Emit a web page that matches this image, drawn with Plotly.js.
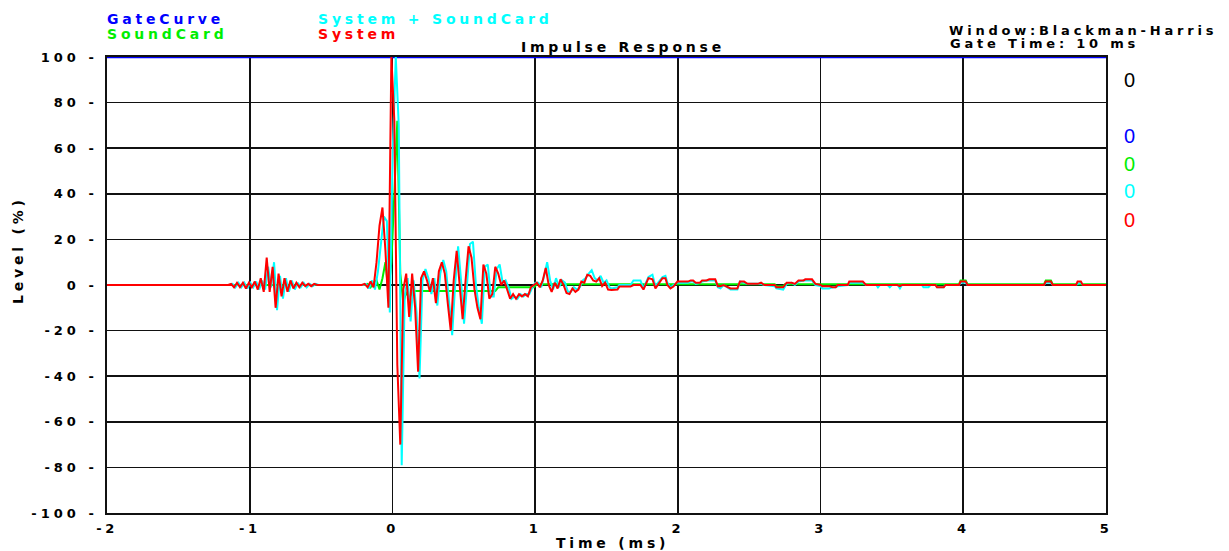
<!DOCTYPE html>
<html><head><meta charset="utf-8">
<script src="https://cdn.plot.ly/plotly-3.0.1.min.js"></script>
<style>
html,body{margin:0;padding:0;background:#fff;}
#chart{width:1229px;height:551px;}
.ytick text{letter-spacing:4px;}
.xtick text{letter-spacing:3.5px;}
.annotation-text,.gtitle{letter-spacing:3.8px;}
</style></head><body><div id="chart"></div><script>
// ---- data (times in ms, levels in %) ----
const headStart = -1.193;      // first sample time of the recorded block
const sampleStep = 0.0208;     // ms per sample (48 kHz)
const comboDelay = 0.01;       // System + SoundCard lags by a fraction of a sample
const leadTimes = [-2];
const leadValues = [0];

const systemHead = [0,0,0,
 0.5,-1,1,-1,1,-1.5,1,-1,1.5,-2,3,-3,12,-3,8,-10,5,-5,3,-3,2,-1.5,1,-1,1,-0.5,0.5,-0.5,0.5,0,
 0,0,0,0,0,0,0,0,0,0,0,0,0,0,0,
 0.5,-1,1.5,-1,10,26,34,15,-10,100,72,-35,-70,
 -2,5,-14,5,-10,-38,3,6,2,-3,
 3,-8,6,10,5,-8,-20,2,15,0,
 -15,2,17,12,-2,-10,-15,9,5,-6,
 -4,8,5,0,2,-2,-6,-4,-6,-4,
 -5,-4,-5,-1,0,1,-1,2,7.5,0,
 -3,1,-1.5,2.5,0,-3.5,-4,-1.5,-3,-2,
 1.5,1,4.5,4,2,1.5,3,-0.5,1,-2];

const comboHead = [0,0,0,
 0.5,-1,1,-1,1,-1.5,1,-1,1.5,-2,2,-2,8,-1,10,-11,4,-6,3,-3,2,-2,1,-1,1,-1,0.5,-0.5,0.5,0,
 0,0,0,0,0,0,0,0,0,0,0,0,0,0,0,
 0.5,-1.5,2,-2,6,18,30,28,-12,60,100,70,-79,
 -5,3,-16,2,-12,-41,2,7,3,-4,
 3,-9,5,11,6,-8,-22,0,17,2,
 -17,0,18,19,0,-10,-17,8,9,-5,
 -5,7,9,1,2,-1,-6,-5,-6,-4,
 -5,-4,-4,-1,1,1,-1,4,10,2,
 -2,3,-1,2,1,-3,-3,-1,-2,-1,
 2,3,5,6.5,3,2,4,1,2,-1];

const soundHead = [0,0,0,0,0,0,0,0,0,0,0,0,0,0,0,0,0,0,0,0,0,0,0,0,
 0,0,0,0,0,0,0,0,0,0,0,0,0,0,0,0,0,0,0,0,0,0,0,0,
 0,0.5,-1,1,2,-2,3,10,-3,10,40,72,5,-8,-3,-6,-3,
 -2.6,-2.6,-2.6,-2.6,-2.6,-2.6,-2.6,-2.6,-2.6,-2.6,-2.6,-2.6,-2.6,-2.6,
 -2.6,-2.6,-2.6,-2.6,-2.6,-2.6,-2.6,-2.6,-2.6,-2.6,-2.6,-2.6,-2.6,-2.6,
 -1,-1,-1,-1,-1,-1,-1,-1,-1,-1,-1,-1,-1,
 0.3,0.3,0.3,0.3,0.3,0.3,0.3,0.3,0.3,0.3,0.3,0.3,0.3,
 0.3,0.3,0.3,0.3,0.3,0.3,0.3,0.3,0.3,0.3,0.3,0.3];

const tailTimes = [1.535,1.577,1.590,1.668,1.689,1.738,1.759,1.794,1.822,1.843,
 1.892,1.913,1.927,1.948,1.969,1.997,2.030,2.070,2.090,2.107,
 2.125,2.155,2.170,2.202,2.220,2.262,2.280,2.298,2.321,2.369,
 2.417,2.435,2.464,2.488,2.560,2.583,2.607,2.679,2.690,2.738,
 2.762,2.798,2.820,2.845,2.881,2.893,2.940,2.964,3.000,3.012,
 3.059,3.083,3.106,3.120,3.190,3.201,3.296,3.319,3.390,3.402,
 3.415,3.470,3.485,3.500,3.540,3.556,3.570,3.710,3.721,3.756,
 3.770,3.805,3.816,3.863,3.875,3.970,3.981,4.017,4.030,4.565,
 4.578,4.614,4.627,4.790,4.801,4.824,4.837,5.000];

const systemTail = [-2.2,-2,-0.7,-0.7,0,0,-2,3,2.5,-1.5,
 3,3,0,-1.5,-0.7,1.5,1.5,1.5,2,2,
 1,1,2,2,2.5,2.5,-0.5,-0.5,0,-1.5,
 -1.5,1.5,1.5,0.5,0.5,1,0,0,-1,-1,
 1,1,0.5,2,2,2.5,2.5,0.5,0,-0.5,
 -0.5,-1,-1,0,0,1.5,1.5,0,0,0,
 0,0,0,0,0,-0.5,0,0,0,0,
 0,0,-1,-1,0,0,1.5,1.5,0,0,
 1.5,1.5,0,0,1.5,1.5,0,0];

const comboTail = [-1.5,-1,0,0,2,2,-1.5,3.5,4.5,-0.5,
 3.5,4,1,-1,0,1,1,1,1.5,1.5,
 0.5,1,1.5,2,2,2,-1,-1.5,0,-2,
 -2,1.5,1,0.5,0.5,0.5,0,-0.5,-1.5,-2,
 0.5,1,0,1.5,2,2,2,0,-0.5,-1.5,
 -1.5,-1,-1,-0.5,0,1,1,0,0,-1,
 0,0,-1,0,0,-1.5,0,0,-1,-1,
 0,0,-1,-1,0,0,1,1,0,0,
 1,1,0,0,0.5,1,0,0];

const soundTailTimes = [1.535,2.679,2.690,2.738,2.750,3.970,3.981,4.017,4.030,4.565,4.578,4.614,4.627,5.000];
const soundTail = [0.3,0.3,-0.5,-0.5,0.3,0.3,2,2,0.3,0.3,2,2,0.3,0.3];

const gateTimes = [-2, 5];
const gateValues = [100, 100];

const xTickValues = [-2,-1,0,1,2,3,4,5];
const xTickLabels = ['-2','-1','0','1','2','3','4','5'];
const yTickValues = [-100,-80,-60,-40,-20,0,20,40,60,80,100];
const yTickLabels = ['-100 -','-80 -','-60 -','-40 -','-20 -','0 -','20 -','40 -','60 -','80 -','100 -'];

const seriesNames = ['GateCurve','SoundCard','System + SoundCard','System'];
const seriesColors = ['#0000ff','#00ee00','#00ffff','#ff0000'];
const readouts = ['0','0','0','0','0'];

// ---- build ----
function sampleTimes(n, start){ return Array.from({length:n}, (_, i) => start + i*sampleStep); }

const sysX = leadTimes.concat(sampleTimes(systemHead.length, headStart), tailTimes);
const sysY = leadValues.concat(systemHead, systemTail);
const comboX = leadTimes.concat(sampleTimes(comboHead.length, headStart + comboDelay), tailTimes);
const comboY = leadValues.concat(comboHead, comboTail);
const sndX = leadTimes.concat(sampleTimes(soundHead.length, headStart), soundTailTimes);
const sndY = leadValues.concat(soundHead, soundTail);

const L = 107, R = 1106, T = 57, B = 513;
const px = x => (x - L) / (R - L);
const py = y => (B - y) / (B - T);

const traces = [
 {x: gateTimes, y: gateValues, name: seriesNames[0], mode:'lines', line:{color:seriesColors[0], width:2.6}, cliponaxis:false},
 {x: sndX, y: sndY, name: seriesNames[1], mode:'lines', line:{color:seriesColors[1], width:2, simplify:false}},
 {x: comboX, y: comboY, name: seriesNames[2], mode:'lines', line:{color:seriesColors[2], width:2, simplify:false}},
 {x: sysX, y: sysY, name: seriesNames[3], mode:'lines', line:{color:seriesColors[3], width:2, simplify:false}}
];

const font = 'DejaVu Sans';
const ann = (text, x, y, color, size, anchor) => ({text:'<b>'+text+'</b>', x:px(x), y:py(y), xref:'paper', yref:'paper',
  xanchor: anchor || 'left', yanchor:'middle', showarrow:false, font:{family:font, size:size||14, color}});

const annotations = [
 ann(seriesNames[0], 105, 18.5, seriesColors[0]),
 ann(seriesNames[1], 105, 33.5, seriesColors[1]),
 ann(seriesNames[2], 316, 18.5, seriesColors[2]),
 ann(seriesNames[3], 316, 33.5, seriesColors[3]),
 ann('Window:Blackman-Harris', 947, 30, '#000', 13),
 ann('Gate Time: 10 ms', 948, 43.5, '#000', 13),
 ann('Time (ms)', 612, 543, '#000', 14, 'center'),
 {text:'<b>Level (%)</b>', x:px(18), y:py(250), xref:'paper', yref:'paper', textangle:-90, xanchor:'center', yanchor:'middle', showarrow:false, font:{family:font, size:14, color:'#000'}}
];
const readoutColors = ['#000','#0000ff','#00ee00','#00ffff','#ff0000'];
const readoutY = [80, 135.5, 163.5, 191.5, 219.5];
readouts.forEach((t, i) => annotations.push({text:t, x:px(1122), y:py(readoutY[i]), xref:'paper', yref:'paper', xanchor:'left', yanchor:'middle', showarrow:false, font:{family:'Liberation Sans', size:20, color:readoutColors[i]}}));

const axisCommon = {showgrid:true, gridcolor:'#111', gridwidth:1.6, zeroline:false, showline:true, linecolor:'#111', linewidth:1.6, mirror:true, ticks:'', fixedrange:true, tickfont:{family:font, size:13, color:'#000', weight:'bold'}};

const layout = {
 width:1229, height:551, margin:{l:L, r:1229-R, t:T, b:551-B, pad:0},
 paper_bgcolor:'#fff', plot_bgcolor:'#fff', showlegend:false,
 font:{family:font, size:13, color:'#000'},
 title:{text:'<b>Impulse Response</b>', x:623/1229, xref:'container', y:1-47/551, yref:'container', xanchor:'center', yanchor:'middle', font:{family:font, size:14, color:'#000'}},
 xaxis:Object.assign({}, axisCommon, {range:[-2,5], tickmode:'array', tickvals:xTickValues, ticktext:xTickLabels, ticklabelstandoff:3}),
 yaxis:Object.assign({}, axisCommon, {range:[-100,100], tickmode:'array', tickvals:yTickValues, ticktext:yTickLabels, ticklabelstandoff:5}),
 annotations
};

Plotly.newPlot('chart', traces, layout, {displayModeBar:false, staticPlot:true});
</script></body></html>
